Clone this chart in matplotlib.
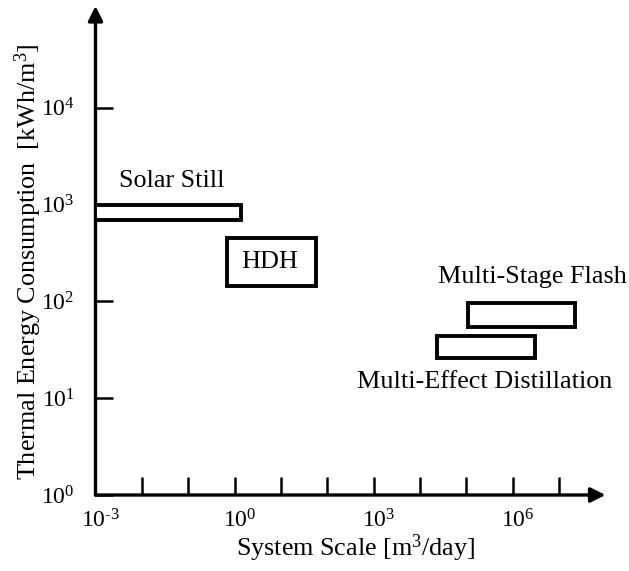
import matplotlib
matplotlib.use("Agg")
import matplotlib.pyplot as plt
from matplotlib.patches import Rectangle
from matplotlib.transforms import ScaledTranslation

plt.rcParams["font.family"] = ["Liberation Serif", "DejaVu Serif"]
plt.rcParams["mathtext.fontset"] = "custom"
plt.rcParams["mathtext.rm"] = "Liberation Serif"
plt.rcParams["mathtext.it"] = "Liberation Serif:italic"
plt.rcParams["mathtext.bf"] = "Liberation Serif:bold"

# Operating ranges of desalination technologies
technologies = ["Solar Still", "HDH", "Multi-Stage Flash", "Multi-Effect Distillation"]
scale_low = [1e-3, 0.67, 1.1e5, 2.3e4]        # m^3/day
scale_high = [1.35, 56.0, 2.2e7, 3.0e6]       # m^3/day
energy_low = [690.0, 145.0, 54.0, 26.0]       # kWh/m^3
energy_high = [1000.0, 447.0, 95.0, 44.0]     # kWh/m^3

x_ticks = [1e-3, 1e-2, 1e-1, 1e0, 1e1, 1e2, 1e3, 1e4, 1e5, 1e6, 1e7]
x_tick_labels = [r"$10^{\text{-}3}$", "", "", "$10^{0}$", "", "", "$10^{3}$", "", "",
                 "$10^{6}$", ""]
y_ticks = [1e0, 1e1, 1e2, 1e3, 1e4]
y_tick_labels = ["$10^{0}$", "$10^{1}$", "$10^{2}$", "$10^{3}$", "$10^{4}$"]

W, H = 629, 571
fig = plt.figure(figsize=(W / 100, H / 100), dpi=100)
ax = fig.add_axes([95.5 / W, 76 / H, 510 / W, 489 / H])
ax.set_xscale("log")
ax.set_yscale("log")
ax.set_xlim(1e-3, 1e8)
ax.set_ylim(1e0, 10 ** 5.05)

for s in ax.spines.values():
    s.set_visible(False)

# Axes drawn as arrows
arrow_kw = dict(arrowstyle="-|>", lw=2.4, color="black", mutation_scale=22,
                shrinkA=0, shrinkB=0)
ax.annotate("", xy=(0, 1), xytext=(0, 0), xycoords="axes fraction",
            arrowprops=arrow_kw, annotation_clip=False)
ax.annotate("", xy=(1, 0), xytext=(0, 0), xycoords="axes fraction",
            arrowprops=arrow_kw, annotation_clip=False)

ax.set_xticks(x_ticks)
ax.set_xticklabels(x_tick_labels)
ax.set_yticks(y_ticks)
ax.set_yticklabels(y_tick_labels)
ax.minorticks_off()
ax.tick_params(axis="both", direction="in", length=13, width=1.8, labelsize=17,
               color="black")
ax.tick_params(axis="x", pad=10)
ax.tick_params(axis="y", pad=15)

# nudge x tick labels so the base "10" sits over its tick
shift = ScaledTranslation(5 / 100, 0, fig.dpi_scale_trans)
for lab in ax.get_xticklabels():
    lab.set_transform(lab.get_transform() + shift)

for x0, x1, y0, y1 in zip(scale_low, scale_high, energy_low, energy_high):
    ax.add_patch(Rectangle((x0, y0), x1 - x0, y1 - y0, facecolor="white",
                           edgecolor="black", lw=2.8, joinstyle="miter", zorder=3))

label_pos = [(0.045, 1740), (None, None), (2.6e6, 179), (2.45e5, 14.8)]
for name, (lx, ly), x0, x1, y0, y1 in zip(technologies, label_pos, scale_low,
                                           scale_high, energy_low, energy_high):
    if lx is None:
        lx, ly = (x0 * x1) ** 0.5 * 0.93, (y0 * y1) ** 0.5
    ax.text(lx, ly, name, ha="center", va="center", fontsize=18.8, zorder=4)

fig.text(28 / W, 1 - 262 / H, "Thermal Energy Consumption  [kWh/m$^3$]",
         rotation=90, ha="center", va="center", fontsize=18.8)
fig.text(356 / W, 1 - 548 / H, "System Scale [m$^3$/day]",
         ha="center", va="center", fontsize=18.8)

fig.savefig("out.png", dpi=100, facecolor="white")
